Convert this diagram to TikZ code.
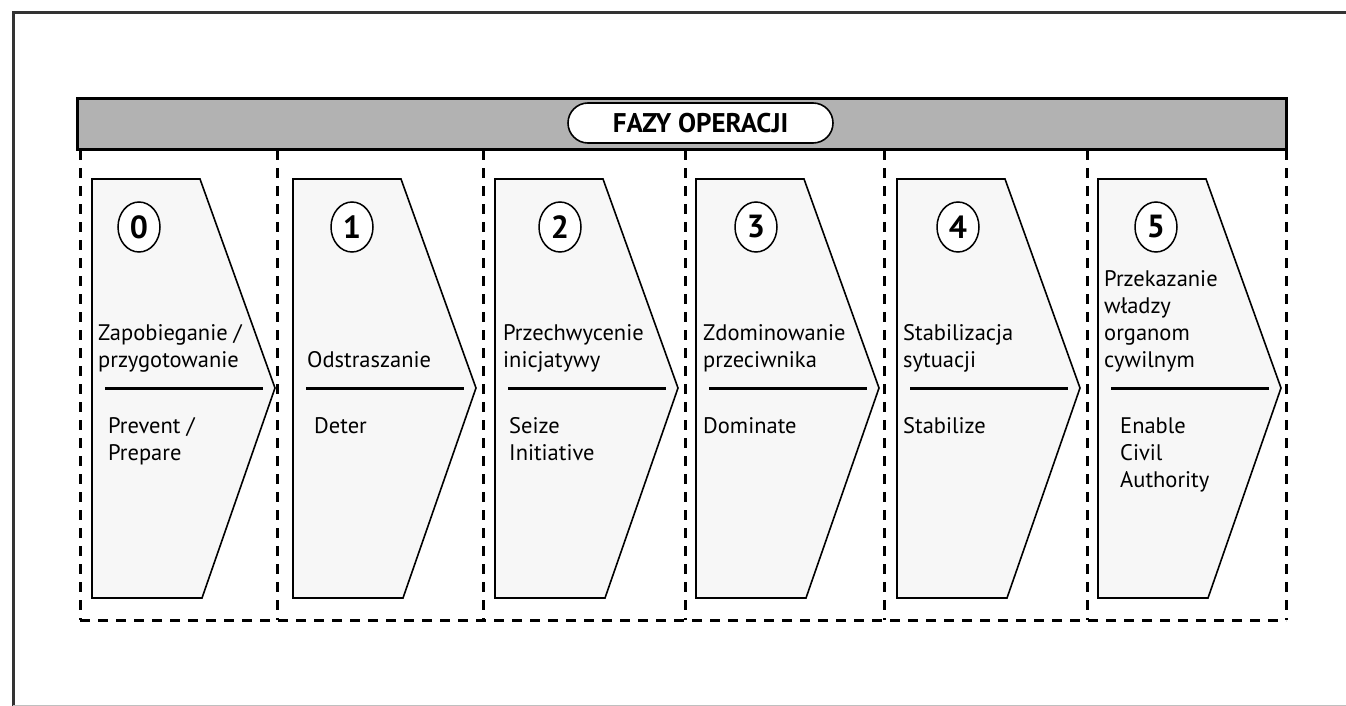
\documentclass[tikz,border=0pt]{standalone}
\usepackage{fontspec}
\setmainfont{PT Sans}
\usetikzlibrary{shapes.geometric}
\tikzset{
  frameline/.style={line width=3pt, draw=black!80},
  header/.style={line width=3pt, draw=black, fill=black!30},
  colline/.style={line width=3pt, dash pattern=on 10pt off 8pt},
  chev/.style={line width=1.6pt, draw=black, fill=black!3, line join=miter},
  divider/.style={line width=3pt},
  num/.style={ellipse, draw, line width=1.5pt, fill=white, minimum width=42pt, minimum height=50pt, inner sep=0pt, font=\bfseries\fontsize{32}{34}\selectfont},
  ptext/.style={anchor=base west, inner sep=0pt, align=left, font=\fontsize{22.5}{27}\selectfont},
  titlebox/.style={draw, line width=1.6pt, fill=white, rounded corners=20pt, minimum width=265pt, minimum height=40pt, inner sep=0pt, font=\bfseries\fontsize{27}{30}\selectfont}
}
\begin{document}
\begin{tikzpicture}[x=1pt,y=-1pt]
\useasboundingbox (0,0) rectangle (1346,706);
% outer frame
\draw[frameline] (13,706) -- (13,13) -- (1346,13);
\draw[black!25, line width=1pt] (13,705) -- (1346,705);
% dashed columns
\foreach \x in {80,277,483,685,884,1087,1286}
  \draw[colline] (\x,150) -- (\x,620);
\draw[colline] (80,620) -- (1286,620);
% header
\draw[header] (77,99) rectangle (1286,149);
\node[titlebox] (title) at (700.5,123) {FAZY OPERACJI};
% chevrons
\foreach \i/\L/\c in {0/92/47,1/293/59,2/495/65,3/696/60,4/897/61,5/1098/58}{
  \draw[chev] (\L,179) -- (\L+108,179) -- (\L+183,388) -- (\L+110,598) -- (\L,598) -- cycle;
  \draw[divider] (\L+13,388) -- (\L+171,388);
  \node[num] (n\i) at (\L+\c,227) {\i};
}
% texts (anchor = baseline of last line)
\node[ptext] (u0) at (98,367) {Zapobieganie /\\przygotowanie};
\node[ptext] (l0) at (108,460) {Prevent /\\Prepare};
\node[ptext] (u1) at (307,367) {Odstraszanie};
\node[ptext] (l1) at (314,433) {Deter};
\node[ptext] (u2) at (503,367) {Przechwycenie\\inicjatywy};
\node[ptext] (l2) at (509,460) {Seize\\Initiative};
\node[ptext] (u3) at (703,367) {Zdominowanie\\przeciwnika};
\node[ptext] (l3) at (703,433) {Dominate};
\node[ptext] (u4) at (903,367) {Stabilizacja\\sytuacji};
\node[ptext] (l4) at (903,433) {Stabilize};
\node[ptext] (u5) at (1104,367) {Przekazanie\\władzy\\organom\\cywilnym};
\node[ptext] (l5) at (1120,487) {Enable\\Civil\\Authority};
\end{tikzpicture}
\end{document}
